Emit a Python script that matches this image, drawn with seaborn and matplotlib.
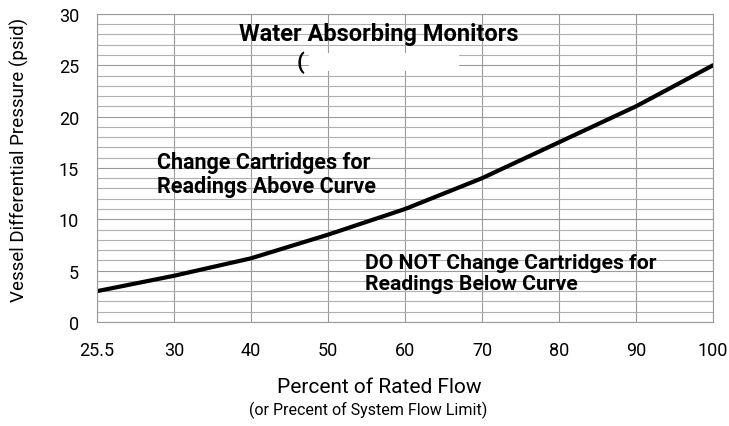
import numpy as np
import pandas as pd
import matplotlib.pyplot as plt
import seaborn as sns
from matplotlib.ticker import MultipleLocator

# --- data ---
flow_labels = ['25.5', '30', '40', '50', '60', '70', '80', '90', '100']
pressure = [3.0, 4.5, 6.2, 8.5, 11.0, 14.0, 17.5, 21.0, 25.0]

df = pd.DataFrame({'pos': range(len(flow_labels)), 'psid': pressure})

sns.set_style('white')
plt.rcParams['font.family'] = ['Roboto', 'DejaVu Sans']
plt.rcParams['text.color'] = 'black'
plt.rcParams['axes.labelcolor'] = 'black'
plt.rcParams['xtick.labelcolor'] = 'black'
plt.rcParams['ytick.labelcolor'] = 'black'

fig = plt.figure(figsize=(7.29, 4.27), dpi=100)
ax = fig.add_axes([0.133, 0.2436, 0.845, 0.7214])

sns.lineplot(data=df, x='pos', y='psid', color='black', linewidth=3, ax=ax)

ax.set_xlim(0, len(flow_labels) - 1)
ax.set_ylim(0, 30)
ax.set_xticks(range(len(flow_labels)))
ax.set_xticklabels(flow_labels)
ax.yaxis.set_major_locator(MultipleLocator(5))
ax.yaxis.set_minor_locator(MultipleLocator(1))

ax.grid(which='major', axis='both', color='#9a9a9a', linewidth=0.8)
ax.grid(which='minor', axis='y', color='#b0b0b0', linewidth=0.8)
ax.set_axisbelow(True)
for s in ax.spines.values():
    s.set_color('#9a9a9a')
    s.set_linewidth(0.8)

ax.tick_params(axis='y', which='major', length=7, color='#9a9a9a', labelsize=13, pad=6)
ax.tick_params(axis='y', which='minor', length=0)
ax.tick_params(axis='x', length=0, labelsize=13, pad=14)

ax.set_xlabel('')
ax.set_ylabel('Vessel Differential Pressure (psid)', fontsize=13.5)
ax.yaxis.set_label_coords(-0.11, 0.53)

fig.text(0.521, 0.092, 'Percent of Rated Flow', ha='center', va='center', fontsize=15)
fig.text(0.505, 0.04, '(or Precent of System Flow Limit)', ha='center', va='center', fontsize=11.5)

# annotations inside the plot
ax.text(0.458, 0.935, 'Water Absorbing Monitors', transform=ax.transAxes,
        ha='center', va='center', fontsize=17, fontweight='bold')
ax.text(0.33, 0.844, '(', transform=ax.transAxes, ha='center', va='center',
        fontsize=16, fontweight='bold')
ax.text(0.466, 0.844, ' ' * 46, transform=ax.transAxes,
        ha='center', va='center', fontsize=9,
        bbox=dict(facecolor='white', edgecolor='none', pad=2))

ax.text(0.097, 0.48, 'Change Cartridges for\nReadings Above Curve', transform=ax.transAxes,
        ha='left', va='center', fontsize=15.5, fontweight='bold', linespacing=1.15)
ax.text(0.435, 0.16, 'DO NOT Change Cartridges for\nReadings Below Curve', transform=ax.transAxes,
        ha='left', va='center', fontsize=15.2, fontweight='bold', linespacing=1.15)

fig.savefig('out.png', dpi=100)
